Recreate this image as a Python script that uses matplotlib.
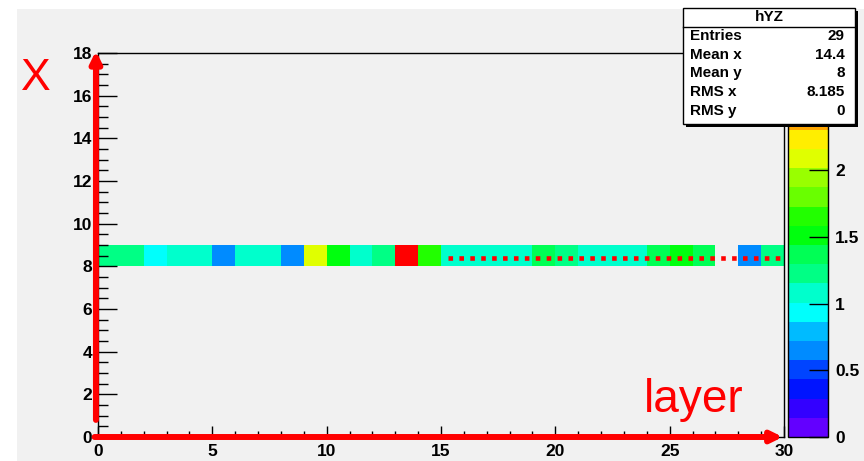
import colorsys

import numpy as np
import matplotlib
matplotlib.use('Agg')
import matplotlib.pyplot as plt
from matplotlib.colors import ListedColormap, Normalize
from matplotlib.patches import Rectangle
from matplotlib.ticker import MultipleLocator

# hYZ histogram: a single filled row (x bin 8-9), one weight per layer bin
layer_edges = np.arange(31)
row_edges = [8, 9]
deposit = [1.22, 1.22, 0.95, 1.08, 1.08, 0.68, 1.08, 1.08, 0.68, 2.08,
           1.50, 1.08, 1.25, 2.74, 1.65, 1.08, 1.08, 1.08, 1.08, 1.36,
           1.22, 1.08, 1.08, 1.08, 1.36, 1.50, 1.36, np.nan, 0.68, 1.25]
cbar_ticks = [0, 0.5, 1, 1.5, 2]
stat_names = ['Entries', 'Mean x', 'Mean y', 'RMS x', 'RMS y']
stat_values = ['29', '14.4', '8', '8.185', '0']

plt.rcParams['font.family'] = ['Liberation Sans', 'DejaVu Sans']
plt.rcParams['font.weight'] = 'bold'

# "pretty" violet->red palette, 50 colours, sampled into 20 contour levels
pretty = [colorsys.hls_to_rgb((280 - (i + 1) * 280 / 50) / 360, 0.5, 1.0) for i in range(50)]
ncont = 20
cmap = ListedColormap([pretty[int((k + 0.99) * 50 / ncont)] for k in range(ncont)])
cmap.set_bad((0, 0, 0, 0))
zmax = 1.05 * np.nanmax(deposit)

W, H = 864, 461
fig = plt.figure(figsize=(W / 100, H / 100), dpi=100)
fig.patch.set_facecolor('white')
fig.patches.append(Rectangle((17 / W, 0), 1 - 17 / W, 1 - 9 / H, transform=fig.transFigure,
                             facecolor='#f1f1f1', edgecolor='none', zorder=-10))

ax = fig.add_axes([98 / W, 24 / H, 686 / W, 384 / H])
ax.set_facecolor('none')
cax = fig.add_axes([788 / W, 24 / H, 40 / W, 384 / H])

z = np.ma.masked_invalid(np.array([deposit]))
mesh = ax.pcolormesh(layer_edges, row_edges, z, cmap=cmap, norm=Normalize(0, zmax))

ax.set_xlim(0, 30)
ax.set_ylim(0, 18)
ax.xaxis.set_major_locator(MultipleLocator(5))
ax.xaxis.set_minor_locator(MultipleLocator(1))
ax.yaxis.set_major_locator(MultipleLocator(2))
ax.yaxis.set_minor_locator(MultipleLocator(0.5))
ax.tick_params(axis='y', which='major', direction='in', length=14, width=1, labelsize=12.5, pad=4)
ax.tick_params(axis='y', which='minor', direction='in', length=7, width=1)
ax.tick_params(axis='x', which='major', direction='in', length=8, width=1, labelsize=12.5, pad=5)
ax.tick_params(axis='x', which='minor', direction='in', length=4, width=1)
for sp in ax.spines.values():
    sp.set_linewidth(1.0)

cb = fig.colorbar(mesh, cax=cax, ticks=cbar_ticks)
cb.set_ticklabels([f'{t:g}' for t in cbar_ticks])
cb.outline.set_linewidth(1.0)
cax.tick_params(direction='in', length=14, width=1, labelsize=12.5, pad=5)
cax.minorticks_off()

# red annotations: axis arrows, dotted track line, axis names
arrow = dict(arrowstyle='-|>,head_length=0.65,head_width=0.32', mutation_scale=10,
             lw=4.3, color='red', shrinkA=0, shrinkB=0)
ax.annotate('', xy=(-0.09, 18.1), xytext=(-0.09, 0.8), arrowprops=arrow,
            annotation_clip=False)
ax.annotate('', xy=(29.95, 0), xytext=(-0.15, 0), arrowprops=arrow,
            annotation_clip=False)
ax.plot([15.3, 30], [8.39, 8.39], color='red', lw=3.3, linestyle=(0, (1, 1.38)),
        clip_on=False, zorder=4)
ax.text(-2.7, 16.8, 'X', color='red', fontsize=32, fontweight='normal',
        ha='center', va='center', clip_on=False)
ax.text(26.05, 1.75, 'layer', color='red', fontsize=33, fontweight='normal',
        ha='center', va='center', clip_on=False)

# stats box
bx0, bx1, by0, by1 = 683, 855, 8, 124
fig.patches.append(Rectangle(((bx0 + 3) / W, 1 - (by1 + 3) / H), (bx1 - bx0) / W, (by1 - by0) / H,
                             transform=fig.transFigure, facecolor='black', edgecolor='none', zorder=20))
fig.patches.append(Rectangle((bx0 / W, 1 - by1 / H), (bx1 - bx0) / W, (by1 - by0) / H,
                             transform=fig.transFigure, facecolor='white', edgecolor='black',
                             lw=1.0, zorder=21))
fig.add_artist(plt.Line2D([bx0 / W, bx1 / W], [1 - 27 / H, 1 - 27 / H], color='black',
                          lw=1.0, transform=fig.transFigure, zorder=22))
fig.text((bx0 + bx1) / 2 / W, 1 - 17 / H, 'hYZ', fontsize=11, ha='center', va='center', zorder=23)
for i, (name, val) in enumerate(zip(stat_names, stat_values)):
    yy = 1 - (36 + 18.7 * i) / H
    fig.text(690 / W, yy, name, fontsize=11, ha='left', va='center', zorder=23)
    fig.text(845 / W, yy, val, fontsize=11, ha='right', va='center', zorder=23)

fig.savefig('out.png', dpi=100)
